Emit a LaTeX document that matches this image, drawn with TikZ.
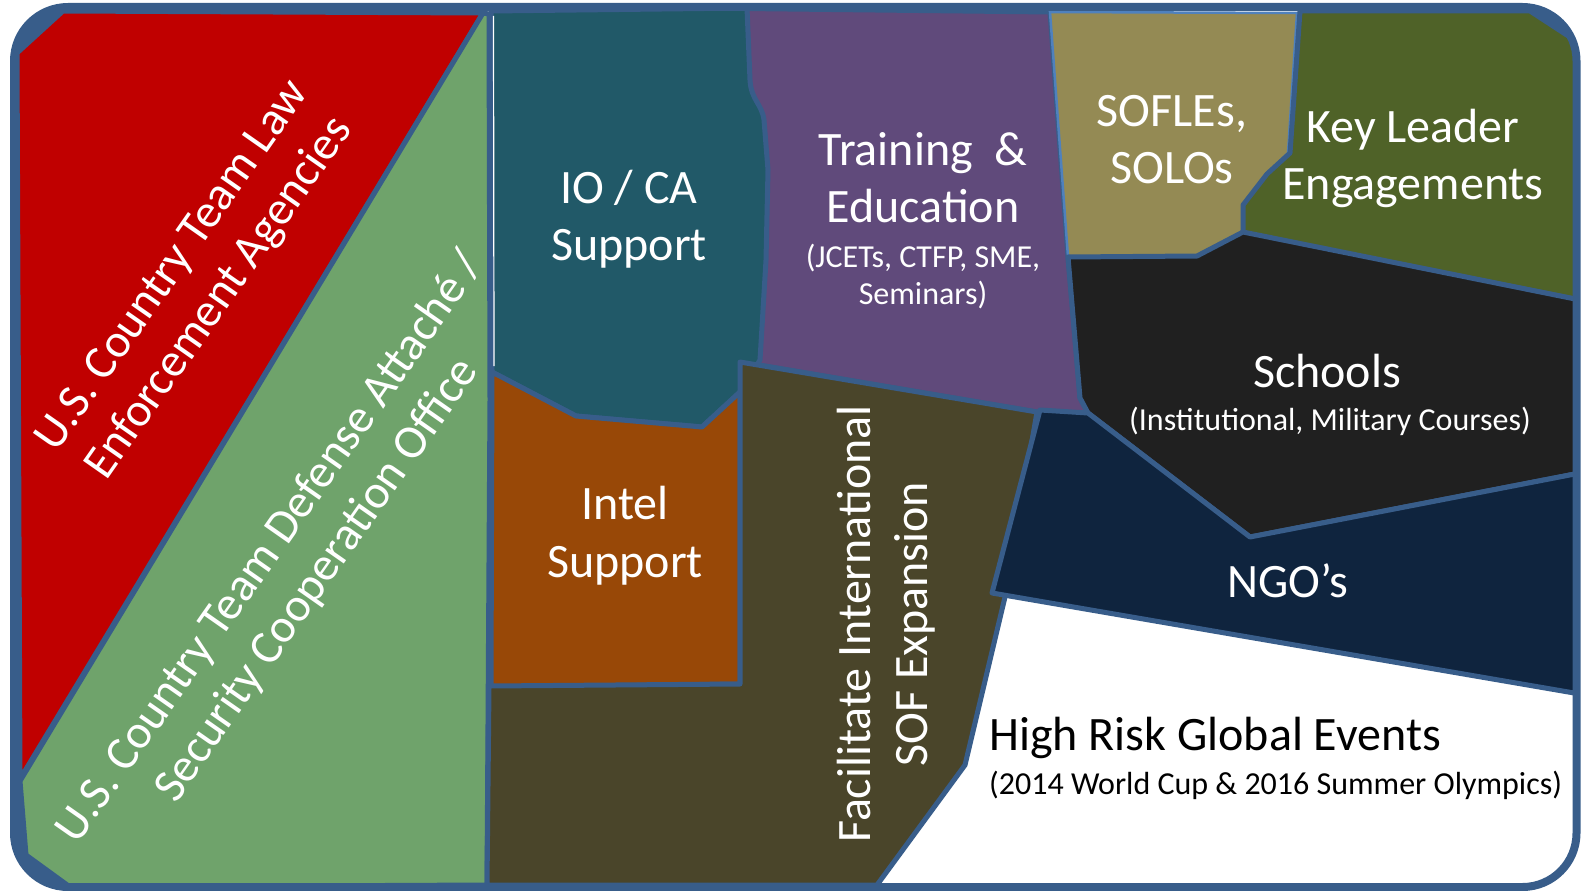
\documentclass[tikz,border=0pt]{standalone}
\usepackage{fontspec}
\setmainfont{Carlito}
\definecolor{frameblue}{HTML}{385D8A}
\definecolor{lawred}{HTML}{C00000}
\definecolor{dagreen}{HTML}{6FA36B}
\definecolor{ioteal}{HTML}{215968}
\definecolor{trpurple}{HTML}{604A7B}
\definecolor{intorange}{HTML}{984807}
\definecolor{facolive}{HTML}{4A452A}
\definecolor{softan}{HTML}{948A54}
\definecolor{solborder}{HTML}{4F81BD}
\definecolor{kleolive}{HTML}{4F6228}
\definecolor{schblack}{HTML}{202020}
\definecolor{ngonavy}{HTML}{0F243E}
\begin{document}
\begin{tikzpicture}[x=1pt,y=-1pt,
  panel/.style={draw=frameblue, line width=5pt, line join=round},
  big/.style={text=white, inner sep=0pt, font=\fontsize{48}{57}\selectfont},
  small/.style={text=white, inner sep=0pt, font=\fontsize{32}{37}\selectfont},
  rotlbl/.style={text=white, inner sep=0pt, align=center, font=\fontsize{47.5}{57}\selectfont}]
\useasboundingbox (0,0) rectangle (1587,891);
\begin{scope}
  \clip[rounded corners=54pt] (14,7) rectangle (1576.5,887);
  \fill[white] (0,0) rectangle (1587,891);
  \fill[frameblue] (0,0) -- (110,0) -- (0,110) -- cycle;
  \fill[frameblue] (0,891) -- (0,740) -- (130,891) -- cycle;
  \fill[frameblue] (1587,0) -- (1470,0) -- (1587,110) -- cycle;
  % red
  \path[panel, fill=lawred] (17,53) -- (63,11) -- (483,13) -- (20,779) -- cycle;
  % green
  \path[panel, fill=dagreen] (483,13) -- (489,14) -- (490,400) -- (487,885) -- (70,887) -- (26,855) -- (20,781) -- cycle;
  % purple
  \path[panel, fill=trpurple] (700,8) -- (1050,12) -- (1068,257) -- (1080,398) -- (1088,413) -- (1037,412) -- (700,355) -- cycle;
  % teal
  \path[panel, fill=ioteal] (491,11) -- (747,8) -- (750,80) .. controls (751,100) and (762,104) .. (764,120) -- (768,170) -- (766,260) -- (760,360) -- (740,392) -- (702,427) -- (576,416) -- (492,372) -- cycle;
  % orange
  \path[panel, fill=intorange] (492,372) -- (576,416) -- (702,427) -- (740,392) -- (740,684) -- (491,687) -- cycle;
  % facilitate
  \path[panel, fill=facolive] (740,362) -- (1037,412) -- (1005,597) -- (965,765) -- (877,885) -- (487,885) -- (489,686) -- (740,684) -- cycle;
  % thin white artefact line between the green and teal panels
  \draw[white, line width=1.2pt] (493.5,16) -- (494,366);
  % SOFLE
  \path[draw=solborder, line width=2.5pt, fill=softan] (1050,12) -- (1297,13) -- (1288,153) -- (1267,174) -- (1243,205) -- (1243,232) -- (1197,256) -- (1068,257) -- cycle;
  % KLE
  \path[panel, fill=kleolive] (1300,11) -- (1530,11) -- (1579,43) -- (1580,300) -- (1243,233) -- (1243,205) -- (1267,174) -- (1290,153) -- cycle;
  % schools
  \path[panel, fill=schblack] (1068,257) -- (1197,256) -- (1243,232) -- (1580,300) -- (1580,473) -- (1250,537) -- (1088,413) -- (1080,398) -- cycle;
  % NGO
  \path[panel, fill=ngonavy] (1040,410) -- (1088,413) -- (1250,537) -- (1580,473) -- (1580,694) -- (992,593) -- cycle;
\end{scope}
\draw[frameblue, line width=8pt, rounded corners=54pt] (14,7) rectangle (1576.5,887);

% labels
\node[rotlbl, rotate=55] (law) at (197,283) {U.S. Country Team Law\\Enforcement Agencies};
\node[rotlbl, rotate=55] (dao) at (294,564) {U.S. Country Team Defense Attach\'e /\\Security Cooperation Office};
\node[big, anchor=base] (io1) at (629,203) {IO / CA};
\node[big, anchor=base] (io2) at (629,260) {Support};
\node[big, anchor=base] (tr1) at (923,165) {Training\ \ \&};
\node[big, anchor=base] (tr2) at (923,222) {Education};
\node[small, anchor=base] (tr3) at (923,267) {(JCETs, CTFP, SME,};
\node[small, anchor=base] (tr4) at (923,304) {Seminars)};
\node[big, anchor=base] (so1) at (1172,126) {SOFLEs,};
\node[big, anchor=base] (so2) at (1172,183) {SOLOs};
\node[big, anchor=base] (kl1) at (1413,142) {Key Leader};
\node[big, anchor=base] (kl2) at (1413,199) {Engagements};
\node[big, anchor=base] (sc1) at (1327,387) {Schools};
\node[small, anchor=base] (sc2) at (1330,430) {(Institutional, Military Courses)};
\node[big, anchor=base] (ngo) at (1288,597) {NGO’s};
\node[big, anchor=base] (in1) at (625,519) {Intel};
\node[big, anchor=base] (in2) at (625,577) {Support};
\node[rotlbl, rotate=90, font=\fontsize{48}{57}\selectfont] (fac) at (886,624) {Facilitate International\\SOF Expansion};
\node[big, text=black, anchor=base west] (hr1) at (989,750) {High Risk Global Events};
\node[small, text=black, anchor=base west] (hr2) at (989,794) {(2014 World Cup \& 2016 Summer Olympics)};
\end{tikzpicture}
\end{document}
